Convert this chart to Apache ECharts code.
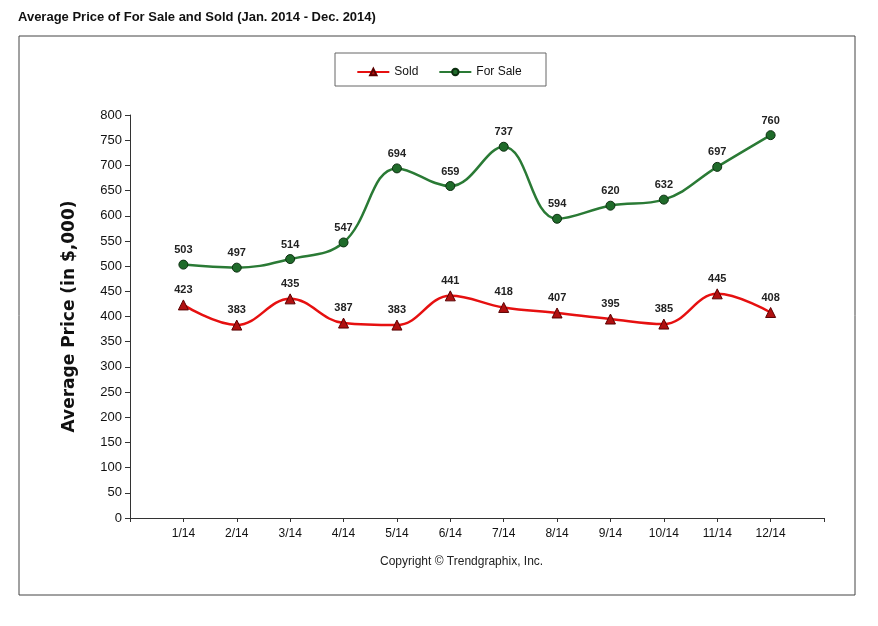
<!DOCTYPE html>
<html>
<head>
<meta charset="utf-8">
<script src="https://cdn.jsdelivr.net/npm/echarts@6/dist/echarts.min.js"></script>
<style>
html,body{margin:0;padding:0;background:#fff;}
#main{width:878px;height:626px;}
</style>
</head>
<body>
<div id="main"></div>
<script>
var months = ['', '1/14', '2/14', '3/14', '4/14', '5/14', '6/14', '7/14', '8/14', '9/14', '10/14', '11/14', '12/14', ''];
var soldValues = [null, 423, 383, 435, 387, 383, 441, 418, 407, 395, 385, 445, 408, null];
var forSaleValues = [null, 503, 497, 514, 547, 694, 659, 737, 594, 620, 632, 697, 760, null];

var myChart = echarts.init(document.getElementById('main'));

var labelStyle = {
    show: true,
    position: 'top',
    distance: 4,
    color: '#222',
    fontWeight: 'bold',
    fontSize: 11,
    fontFamily: 'Arial'
};

var option = {
    animation: false,
    textStyle: { fontFamily: 'Arial' },
    graphic: [
        {
            type: 'rect',
            shape: { x: 19, y: 36, width: 836, height: 559 },
            style: { fill: 'none', stroke: '#444', lineWidth: 1 }
        },
        {
            type: 'rect',
            shape: { x: 335, y: 53, width: 211, height: 33 },
            style: { fill: 'none', stroke: '#666', lineWidth: 1 }
        },
        {
            type: 'text', left: 18, top: 11,
            style: { text: 'Average Price of For Sale and Sold (Jan. 2014 - Dec. 2014)', fontSize: 13, fontWeight: 'bold', fill: '#111', fontFamily: 'Arial' }
        },
        {
            type: 'text', left: 380, top: 556,
            style: { text: 'Copyright \u00A9 Trendgraphix, Inc.', fontSize: 12, fill: '#222', fontFamily: 'Arial' }
        }
    ],
    legend: {
        top: 61,
        left: 'center',
        itemWidth: 32,
        itemHeight: 8,
        itemGap: 20,
        textStyle: { fontSize: 12, color: '#111' },
        data: ['Sold', 'For Sale']
    },
    grid: { left: 130, right: 54, top: 115, bottom: 108 },
    xAxis: {
        type: 'category',
        boundaryGap: false,
        data: months,
        axisLine: { lineStyle: { color: '#333' } },
        axisTick: { show: true, length: 4, lineStyle: { color: '#333' } },
        axisLabel: { color: '#111', fontSize: 12, margin: 10 },
        splitLine: { show: false }
    },
    yAxis: {
        type: 'value',
        min: 0,
        max: 800,
        interval: 50,
        name: 'Average Price (in $,000)',
        nameLocation: 'middle',
        nameGap: 52,
        nameTextStyle: { fontSize: 17, fontWeight: 'bold', color: '#111', fontFamily: 'DejaVu Sans' },
        axisLine: { show: true, lineStyle: { color: '#333' } },
        axisTick: { show: true, length: 5, lineStyle: { color: '#333' } },
        axisLabel: { color: '#111', fontSize: 13, margin: 8 },
        splitLine: { show: false }
    },
    series: [
        {
            name: 'Sold',
            type: 'line',
            smooth: 0.4,
            data: soldValues,
            symbol: 'triangle',
            symbolSize: 10,
            itemStyle: { color: '#b01010', borderColor: '#5a0000', borderWidth: 1 },
            lineStyle: { color: '#e61010', width: 2.5 },
            label: labelStyle
        },
        {
            name: 'For Sale',
            type: 'line',
            smooth: 0.4,
            data: forSaleValues,
            symbol: 'circle',
            symbolSize: 9,
            itemStyle: { color: '#1f6b2a', borderColor: '#0c2e10', borderWidth: 1 },
            lineStyle: { color: '#2a7a35', width: 2.5 },
            label: labelStyle
        }
    ]
};

myChart.setOption(option);
</script>
</body>
</html>
